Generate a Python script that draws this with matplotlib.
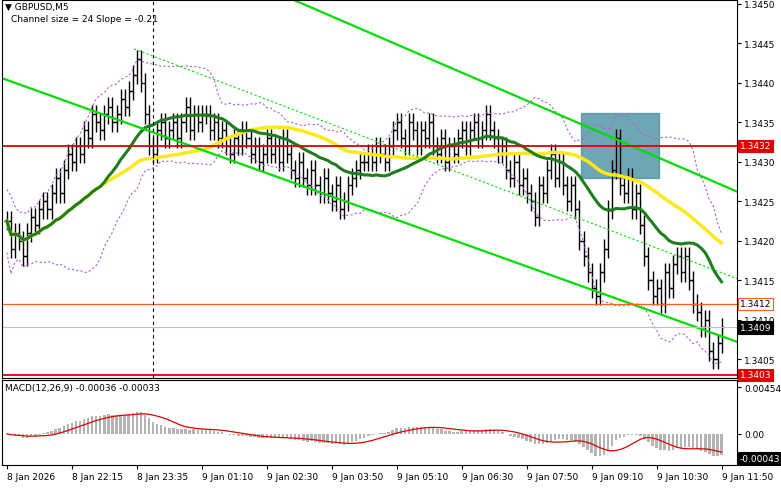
import numpy as np, pandas as pd
import matplotlib
matplotlib.use("Agg")
import matplotlib.pyplot as plt
from matplotlib.patches import Rectangle

closes = [1.34225,1.3419,1.3421,1.3420,1.3418,1.3421,1.3423,1.3422,1.3424,1.3425,1.3424,1.3426,1.3428,1.3426,1.3429,1.3431,
1.3430,1.3432,1.3431,1.3434,1.3433,1.3436,1.3435,1.3434,1.3436,1.3437,1.3435,1.3436,1.3438,1.3437,1.3439,1.3441,
1.3443,1.3440,1.3436,1.3432,1.3431,1.3434,1.3435,1.3433,1.3434,1.3435,1.3433,1.3435,1.3437,1.3434,1.3436,1.3435,
1.3436,1.3436,1.3434,1.3435,1.3433,1.3434,1.3432,1.3431,1.3433,1.3432,1.3434,1.3433,1.3431,1.3432,1.3430,1.3431,
1.3433,1.3431,1.3432,1.3430,1.3433,1.3431,1.3429,1.3428,1.3430,1.3428,1.3427,1.3429,1.3427,1.3426,1.3428,1.3426,
1.3425,1.3427,1.3424,1.3425,1.3427,1.3428,1.3429,1.3430,1.3430,1.3431,1.3430,1.3432,1.3431,1.3430,1.3432,1.3434,
1.3435,1.3433,1.3432,1.3435,1.3434,1.3432,1.3434,1.3433,1.3435,1.3432,1.3431,1.3433,1.3430,1.3432,1.3431,1.3433,
1.3434,1.3432,1.3434,1.3435,1.3433,1.3434,1.3436,1.3434,1.3433,1.3431,1.3432,1.3429,1.3428,1.3430,1.3427,1.3428,
1.3426,1.3425,1.3423,1.3427,1.3426,1.3429,1.3431,1.3428,1.3430,1.3427,1.3425,1.3427,1.3424,1.3420,1.3418,1.3416,
1.3414,1.3413,1.3416,1.3419,1.3424,1.3429,1.3433,1.3427,1.3426,1.3428,1.3424,1.3426,1.3422,1.3418,1.3415,1.3413,
1.3414,1.3412,1.3416,1.3414,1.3417,1.3418,1.3416,1.3418,1.3415,1.3412,1.3411,1.3409,1.3410,1.3406,1.3405,1.3407,1.3409]
wick = 0.00012
time_labels = ["8 Jan 2026","8 Jan 22:15","8 Jan 23:35","9 Jan 01:10","9 Jan 02:30","9 Jan 03:50",
               "9 Jan 05:10","9 Jan 06:30","9 Jan 07:50","9 Jan 09:10","9 Jan 10:30","9 Jan 11:50"]
level_red = [1.3432, 1.3403]
level_orange = 1.3412
current = 1.3409
chan_upper = (70.7, 1.34505, 180.8, 1.3426)
chan_lower = (-0.7, 1.34405, 180.8, 1.3407)
chan_mid = (31.3, 1.34443, 180.8, 1.34150)
box = (141.5, 160.5, 1.3428, 1.34362)

N = len(closes)
c = pd.Series(closes)
o = c.shift(1).fillna(c.iloc[0])
hi = np.maximum(o, c) + wick
lo = np.minimum(o, c) - wick
x = np.arange(N)

W, H = 781, 489
fig = plt.figure(figsize=(W/100, H/100), dpi=100)
plt.rcParams['font.family'] = 'DejaVu Sans'
fs = 6.5
ax = fig.add_axes([2/W, 1-379/H, 735/W, 378/H])
ax2 = fig.add_axes([2/W, 1-466/H, 735/W, 85/H], sharex=ax)
xmin, xmax = -1.2, 179.8
for a in (ax, ax2):
    a.set_xlim(xmin, xmax)
    a.yaxis.tick_right()
    a.tick_params(labelsize=fs, length=3, direction='out', pad=2)
    for s in a.spines.values():
        s.set_linewidth(0.8)
ax.set_ylim(1.34026, 1.34505)

ax.vlines(x, lo, hi, color='black', lw=1)
ax.hlines(o, x-0.6, x, color='black', lw=1)
ax.hlines(c, x, x+0.6, color='black', lw=1)

mid = c.rolling(20, min_periods=1).mean()
sd = c.rolling(20, min_periods=2).std().fillna(0.0002)
for b in (mid+2*sd, mid-2*sd):
    ax.plot(x, b, color='#b060d0', lw=0.8, ls=(0, (2, 2)))
ax.plot(x, c.rolling(50, min_periods=1).mean(), color='#ffe81a', lw=2.5)
ax.plot(x, c.rolling(24, min_periods=1).mean(), color='#1e7d1e', lw=2.2)

for (b0, p0, b1, p1), ls, lw in ((chan_upper, '-', 1.6), (chan_lower, '-', 1.6), (chan_mid, (0, (2, 2)), 0.8)):
    ax.plot([b0, b1], [p0, p1], color='#00dd00', lw=lw, ls=ls)

ax.add_patch(Rectangle((box[0], box[2]), box[1]-box[0], box[3]-box[2], color='#4a90a0', alpha=0.8, zorder=0))
for lv in level_red:
    ax.axhline(lv, color='#e00000', lw=1.3)
ax.axhline(level_orange, color='#ff6020', lw=0.9)
ax.axhline(current, color='#c0c0c0', lw=0.8)
ax.axvline(36, color='black', lw=0.8, ls=(0, (3, 3)))

yt = [1.3450,1.3445,1.3440,1.3435,1.3430,1.3425,1.3420,1.3415,1.3410,1.3405]
ax.set_yticks(yt)
ax.set_yticklabels([f"{v:.4f}" for v in yt])
def tag(a, v, txt, fc, tc, ec=None):
    a.annotate(txt, (1, v), xycoords=('axes fraction', 'data'), xytext=(2, 0), textcoords='offset points',
               va='center', ha='left', fontsize=fs, color=tc,
               bbox=dict(boxstyle='square,pad=0.2', fc=fc, ec=ec or fc, lw=0.8), annotation_clip=False)
for lv in level_red:
    tag(ax, lv, f"{lv:.4f}", '#e00000', 'white')
tag(ax, level_orange, f"{level_orange:.4f}", 'white', 'black', '#ff6020')
tag(ax, current, f"{current:.4f}", 'black', 'white')

ax.text(0.004, 0.995, "\u25bc GBPUSD,M5", transform=ax.transAxes, fontsize=fs, va='top')
ax.text(0.012, 0.962, "Channel size = 24 Slope = -0.21", transform=ax.transAxes, fontsize=fs, va='top')

ema12 = c.ewm(span=12, adjust=False).mean()
ema26 = c.ewm(span=26, adjust=False).mean()
macd = ema12 - ema26
sig = macd.rolling(9, min_periods=1).mean()
ax2.bar(x, macd, width=0.6, color='#b4b4b4')
ax2.plot(x, sig, color='#e00000', lw=0.9)
ax2.set_ylim(-0.00055, 0.00095)
ax2.set_yticks([0.00082, 0.0])
ax2.set_yticklabels(["0.00454", "0.00"])
tag(ax2, -0.00043, "-0.00043", 'black', 'white')
ax2.text(0.004, 0.96, "MACD(12,26,9) -0.00036 -0.00033", transform=ax2.transAxes, fontsize=fs, va='top')

ticks = [176 - 16*k for k in range(11, -1, -1)]
ax2.set_xticks(ticks)
ax2.set_xticklabels(time_labels, ha='left')
plt.setp(ax.get_xticklabels(), visible=False)
ax.tick_params(axis='x', length=0)
fig.savefig("out.png", dpi=100, facecolor='white')
